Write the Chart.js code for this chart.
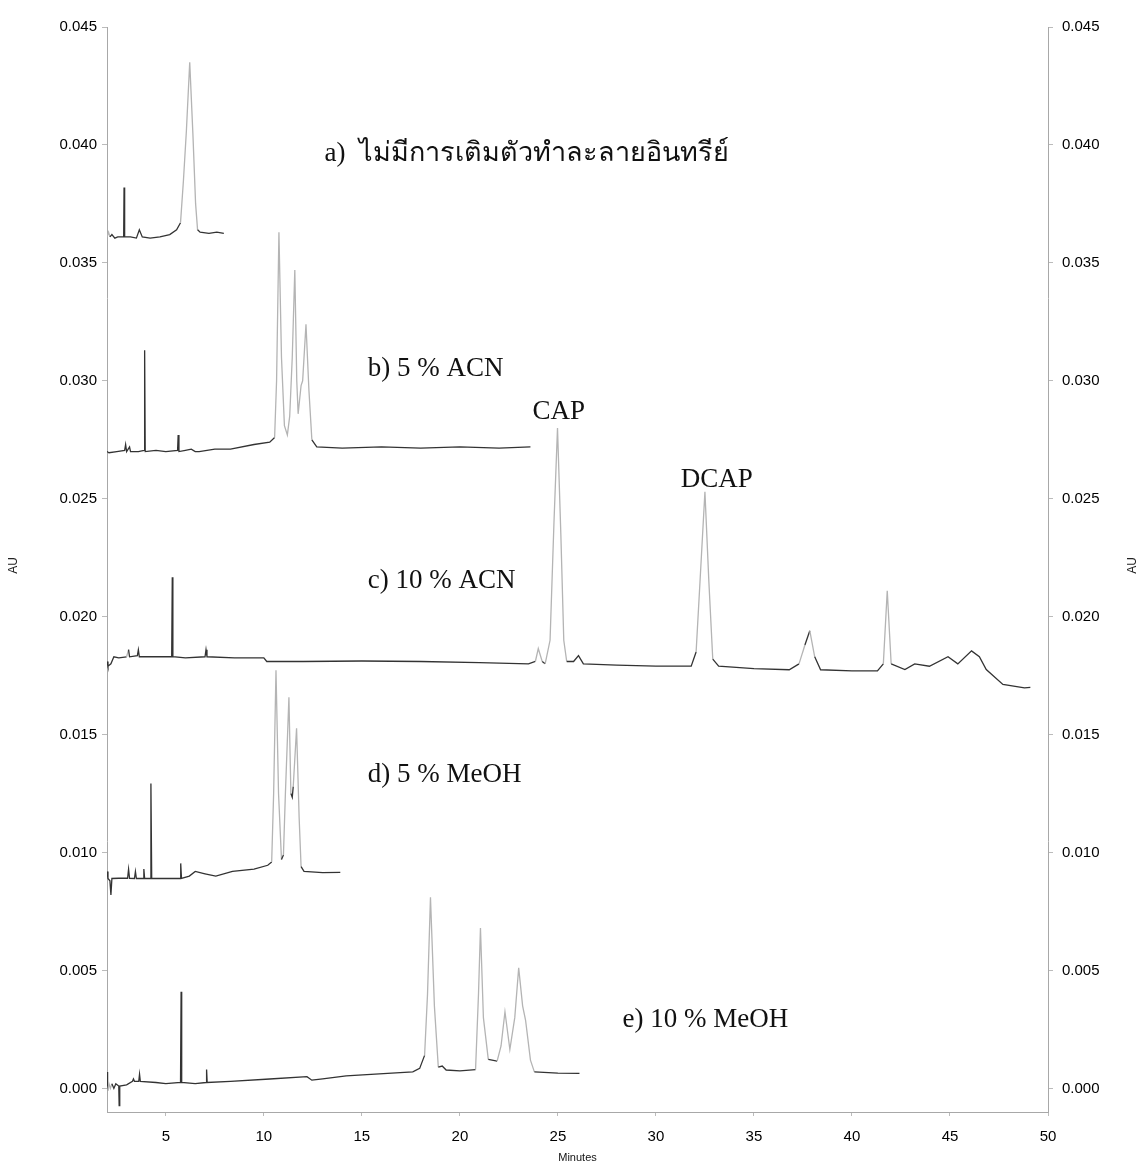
<!DOCTYPE html>
<html><head><meta charset="utf-8">
<script src="https://cdn.jsdelivr.net/npm/chart.js@4.4.1/dist/chart.umd.min.js"></script>
<style>html,body{margin:0;padding:0;background:#fff;}canvas{display:block;}</style>
</head><body>
<canvas id="c" width="1141" height="1167"></canvas>
<script>
// ---- data (minutes, AU) ----
const xTickValues = [5,10,15,20,25,30,35,40,45,50];
const yTickValues = [0,0.005,0.010,0.015,0.020,0.025,0.030,0.035,0.040,0.045];

const traceA_t = [2.0,2.08,2.15,2.25,2.4,2.55,2.85,2.87,2.9,3.2,3.5,3.65,3.8,4.2,4.7,5.2,5.55,5.75,5.9,6.05,6.22,6.38,6.52,6.62,6.75,7.2,7.6,7.96];
const traceA_y = [0.0361,0.0363,0.0361,0.0362,0.03605,0.0361,0.0361,0.0382,0.0361,0.0361,0.03605,0.0364,0.0361,0.03605,0.0361,0.0362,0.0364,0.0367,0.0385,0.0406,0.0435,0.0405,0.0375,0.0364,0.0363,0.03625,0.0363,0.03625];

const traceB_t = [2.0,2.1,2.5,2.9,2.95,3.0,3.15,3.2,3.6,3.9,3.92,3.95,4.5,5.0,5.6,5.63,5.67,6.0,6.3,6.5,6.7,7.5,8.3,9.5,10.3,10.55,10.65,10.77,10.9,11.05,11.2,11.32,11.45,11.58,11.68,11.75,11.9,11.98,12.15,12.3,12.45,12.7,14,16,18,20,22,23.6];
const traceB_y = [0.0270,0.02695,0.0270,0.02705,0.0273,0.0270,0.0272,0.0270,0.0270,0.02705,0.0313,0.0270,0.02705,0.0270,0.02705,0.0277,0.0270,0.02705,0.0271,0.0270,0.0270,0.0271,0.0271,0.0273,0.0274,0.0276,0.0300,0.0363,0.0310,0.0281,0.0277,0.0285,0.0310,0.0347,0.0300,0.0286,0.0298,0.0300,0.0324,0.0296,0.0275,0.0272,0.02715,0.0272,0.02715,0.0272,0.02715,0.0272];

const traceC_t = [2.0,2.05,2.2,2.35,2.6,3.0,3.1,3.15,3.55,3.6,3.65,4.5,5.3,5.33,5.36,6.0,7.0,7.05,7.1,8.5,10.0,10.15,12,15,18,21,23.5,23.85,24.0,24.2,24.35,24.6,24.8,24.98,25.15,25.3,25.45,25.8,26.05,26.3,28,30,31.8,32.05,32.25,32.5,32.7,32.9,33.2,35,36.8,37.3,37.6,37.85,38.1,38.4,40,41.3,41.6,41.8,42.0,42.7,43.2,43.95,44.9,45.4,46.1,46.5,46.85,47.7,48.8,49.1];
const traceC_y = [0.0181,0.0179,0.0180,0.0183,0.01825,0.0183,0.0186,0.0183,0.01835,0.0186,0.0183,0.0183,0.0183,0.02167,0.0183,0.01825,0.0183,0.0186,0.0183,0.01825,0.01825,0.0181,0.0181,0.01812,0.0181,0.01805,0.0180,0.0181,0.01865,0.0181,0.0180,0.0190,0.0240,0.0280,0.0235,0.0190,0.0181,0.0181,0.01835,0.0180,0.01795,0.0179,0.0179,0.0185,0.0215,0.0253,0.0215,0.0182,0.0179,0.0178,0.01775,0.0180,0.0188,0.0194,0.0183,0.01775,0.0177,0.0177,0.0180,0.0211,0.0180,0.01776,0.0180,0.0179,0.0183,0.0180,0.01855,0.0183,0.01776,0.01713,0.01698,0.0170];

const traceD_t = [2.0,2.05,2.15,2.2,2.25,2.6,3.05,3.1,3.15,3.4,3.45,3.5,3.85,3.88,3.92,4.2,4.24,4.28,5.0,5.73,5.76,5.8,6.2,6.5,7.0,7.55,8.4,9.5,10.2,10.4,10.5,10.62,10.75,10.9,11.0,11.1,11.28,11.38,11.45,11.5,11.67,11.8,11.9,12.05,13,13.9];
const traceD_y = [0.0092,0.0089,0.0088,0.0082,0.0089,0.00891,0.00891,0.0093,0.00891,0.0089,0.0092,0.0089,0.0089,0.0093,0.0089,0.0089,0.01293,0.0089,0.0089,0.0089,0.00954,0.0089,0.0090,0.0092,0.0091,0.0090,0.0092,0.0093,0.00946,0.0096,0.0125,0.01773,0.0125,0.0097,0.0099,0.0125,0.01658,0.0125,0.01234,0.0128,0.01527,0.0115,0.0094,0.0092,0.00915,0.00916];

const traceE_t = [2.0,2.03,2.1,2.17,2.25,2.35,2.45,2.6,2.62,2.65,3.0,3.3,3.35,3.4,3.62,3.66,3.7,4.5,5.0,5.75,5.78,5.81,6.5,7.05,7.08,7.11,8.3,10.3,12.2,12.45,13.0,14.2,16.1,17.6,17.95,18.2,18.35,18.5,18.7,18.9,19.1,19.3,20.0,20.8,20.95,21.05,21.2,21.45,21.9,22.1,22.3,22.55,22.8,23.0,23.2,23.35,23.6,23.8,25,26.1];
const traceE_y = [0.0007,-0.0001,0.0002,0.0000,0.0002,0.0000,0.0002,0.0001,-0.00073,0.0001,0.00015,0.0003,0.0004,0.0003,0.0003,0.0006,0.0003,0.00025,0.0002,0.00025,0.0041,0.00025,0.0002,0.00025,0.0008,0.00025,0.0003,0.0004,0.0005,0.00035,0.0004,0.00053,0.00063,0.0007,0.00085,0.0014,0.0040,0.0081,0.0035,0.0009,0.00095,0.00078,0.00074,0.0008,0.0040,0.0068,0.0030,0.00123,0.00116,0.0018,0.00325,0.00165,0.0030,0.00511,0.0035,0.0029,0.0012,0.0007,0.00065,0.00064];

const textLabels = [
  {text:'a)  ไม่มีการเติมตัวทำละลายอินทรีย์', x:13.1, y:0.0396, align:'left'},
  {text:'b) 5 % ACN', x:15.3, y:0.0305, align:'left'},
  {text:'CAP', x:25.05, y:0.0287, align:'center'},
  {text:'DCAP', x:33.1, y:0.0258, align:'center'},
  {text:'c) 10 % ACN', x:15.3, y:0.0215, align:'left'},
  {text:'d) 5 % MeOH', x:15.3, y:0.0133, align:'left'},
  {text:'e) 10 % MeOH', x:28.3, y:0.0029, align:'left'}
];

function pts(t, y){ return t.map((v,i)=>({x:v, y:y[i]})); }
const segStyle = {
  borderColor: ctx => {
    const dx = Math.abs(ctx.p1.x - ctx.p0.x), dy = Math.abs(ctx.p1.y - ctx.p0.y);
    if (dx >= 1.2 && dy / dx > 3) return '#b4b4b4';
    return '#333333';
  }
};
function ds(t, y){
  return {data: pts(t,y), borderColor:'#333333', borderWidth:1.3, pointRadius:0, tension:0, segment: segStyle, yAxisID:'y'};
}

const labelPlugin = {
  id:'labels',
  afterDatasetsDraw(chart){
    const c = chart.ctx, xs = chart.scales.x, ys = chart.scales.y;
    c.save();
    c.fillStyle = '#111';
    c.font = '27px "Liberation Serif", "Times New Roman", serif';
    c.textBaseline = 'middle';
    textLabels.forEach(l => {
      c.textAlign = l.align;
      c.fillText(l.text, xs.getPixelForValue(l.x), ys.getPixelForValue(l.y));
    });
    // axis titles "AU"
    c.font = '12px "Liberation Sans", Arial, sans-serif';
    c.fillStyle = '#222';
    c.textAlign = 'center';
    const yMid = (chart.chartArea.top + chart.chartArea.bottom) / 2;
    [14, 1133].forEach(px => {
      c.save(); c.translate(px, yMid - 4); c.rotate(-Math.PI/2); c.fillText('AU', 0, 0); c.restore();
    });
    c.restore();
  }
};

const tickFont = {family:'"Liberation Sans", Arial, sans-serif', size:15};
new Chart(document.getElementById('c'), {
  type:'line',
  data:{ datasets:[ ds(traceA_t,traceA_y), ds(traceB_t,traceB_y), ds(traceC_t,traceC_y), ds(traceD_t,traceD_y), ds(traceE_t,traceE_y) ] },
  options:{
    responsive:false, animation:false,
    layout:{padding:{top:27, left:0, right:0, bottom:0}},
    plugins:{legend:{display:false}, tooltip:{enabled:false}},
    scales:{
      x:{type:'linear', min:2, max:50,
        afterBuildTicks: s => { s.ticks = xTickValues.map(v=>({value:v})); },
        afterFit: s => { s.height = 55; },
        ticks:{color:'#000', font:tickFont, padding:12, maxRotation:0, autoSkip:false},
        grid:{drawOnChartArea:false, tickLength:4, color:'#bbbbbb'},
        border:{color:'#a8a8a8', width:1},
        title:{display:true, text:'Minutes', color:'#111', font:{family:'"Liberation Sans", Arial, sans-serif', size:11}, padding:{top:0, bottom:2}}
      },
      y:{type:'linear', position:'left', min:-0.001, max:0.045,
        afterBuildTicks: s => { s.ticks = yTickValues.map(v=>({value:v})); },
        afterFit: s => { s.width = 107; },
        ticks:{color:'#000', font:tickFont, padding:5, callback:v=>v.toFixed(3)},
        grid:{drawOnChartArea:false, tickLength:5, color:'#bbbbbb'},
        border:{color:'#a8a8a8', width:1}
      },
      y2:{type:'linear', position:'right', min:-0.001, max:0.045,
        afterBuildTicks: s => { s.ticks = yTickValues.map(v=>({value:v})); },
        afterFit: s => { s.width = 93; },
        ticks:{color:'#000', font:tickFont, padding:9, callback:v=>v.toFixed(3)},
        grid:{drawOnChartArea:false, tickLength:5, color:'#bbbbbb'},
        border:{color:'#a8a8a8', width:1}
      }
    }
  },
  plugins:[labelPlugin]
});
</script>
</body></html>
